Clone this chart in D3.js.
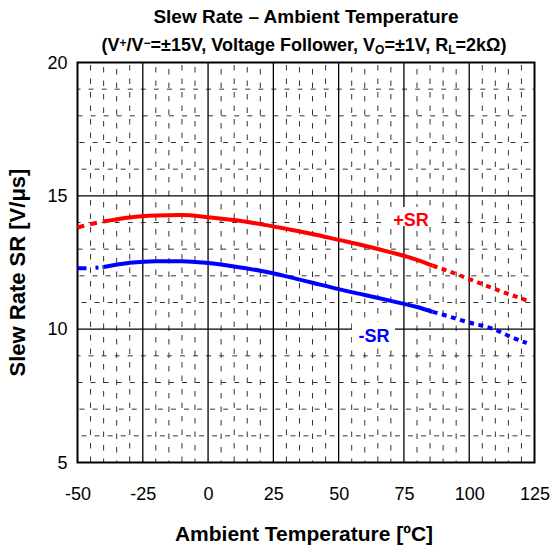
<!DOCTYPE html>
<html>
<head>
<meta charset="utf-8">
<script src="https://cdn.jsdelivr.net/npm/d3@7"></script>
<style>
  body { margin: 0; background: #fff; }
  svg text { font-family: "Liberation Sans", Arial, sans-serif; }
</style>
</head>
<body>
<script>
'use strict'

// tick labels
var xTicks = [-50, -25, 0, 25, 50, 75, 100, 125]
var yTicks = [5, 10, 15, 20]

var posLeftT = [-50, -45, -40]
var posLeftV = [13.81, 13.94, 14.04]
var posT = [-40, -30, -20, -10, 0, 10, 20, 30, 40, 50, 60, 70, 80, 86]
var posV = [14.04, 14.19, 14.26, 14.28, 14.2, 14.09, 13.94, 13.76, 13.57, 13.35, 13.13, 12.88, 12.6, 12.38]
var posRightT = [86, 90, 100, 110, 122]
var posRightV = [12.38, 12.25, 11.88, 11.5, 11.08]

// -SR
var negLeftT = [-50, -45, -40]
var negLeftV = [12.28, 12.29, 12.33]
var negT = [-40, -30, -20, -10, 0, 10, 20, 30, 40, 50, 60, 70, 80, 86]
var negV = [12.33, 12.49, 12.55, 12.55, 12.48, 12.35, 12.19, 11.98, 11.74, 11.5, 11.28, 11.06, 10.83, 10.65]
var negRightT = [86, 90, 100, 110, 115, 122]
var negRightV = [10.65, 10.54, 10.25, 9.98, 9.75, 9.48]

var width = 554
var height = 550
var margin = { top: 62.5, right: 19.5, bottom: 87.5, left: 77.5 }
var w = width - margin.left - margin.right
var h = height - margin.top - margin.bottom

var svg = d3.select('body').append('svg')
  .attr('width', width)
  .attr('height', height)

var x = d3.scaleLinear().domain([-50, 125]).range([0, w])
var y = d3.scaleLinear().domain([5, 20]).range([h, 0])

function zip (ts, vs) {
  return ts.map(function (t, i) { return { t: t, v: vs[i] } })
}

// titles
svg.append('text')
  .attr('x', margin.left + w / 2)
  .attr('y', 23)
  .attr('text-anchor', 'middle')
  .style('font-size', '19px')
  .style('font-weight', 'bold')
  .text('Slew Rate \u2013 Ambient Temperature')

var sub = svg.append('text')
  .attr('x', margin.left + w / 2 - 2)
  .attr('y', 51)
  .attr('text-anchor', 'middle')
  .style('font-size', '18px')
  .style('font-weight', 'bold')
sub.append('tspan').text('(V')
sub.append('tspan').attr('baseline-shift', '35%').style('font-size', '12px').text('+')
sub.append('tspan').text('/V')
sub.append('tspan').attr('baseline-shift', '35%').style('font-size', '12px').text('\u2212')
sub.append('tspan').text('=\u00b115V, Voltage Follower, V')
sub.append('tspan').attr('baseline-shift', '-25%').style('font-size', '12px').text('O')
sub.append('tspan').text('=\u00b11V, R')
sub.append('tspan').attr('baseline-shift', '-25%').style('font-size', '12px').text('L')
sub.append('tspan').text('=2k\u03a9)')

var g = svg.append('g')
  .attr('transform', 'translate(' + margin.left + ',' + margin.top + ')')

// minor grid
var xMinor = d3.range(-45, 125, 5).filter(function (d) { return d % 25 !== 0 })
var yMinor = d3.range(6, 20, 1).filter(function (d) { return d % 5 !== 0 })

g.append('g').selectAll('line')
  .data(xMinor)
  .enter().append('line')
  .attr('x1', function (d) { return x(d) })
  .attr('x2', function (d) { return x(d) })
  .attr('y1', 0)
  .attr('y2', h)
  .attr('stroke', '#333')
  .attr('stroke-width', 1)
  .attr('stroke-dasharray', '5.5,8')
  .attr('stroke-dashoffset', function (d, i) { return -2.5 - (i % 3) * 2 })

g.append('g').selectAll('line')
  .data(yMinor)
  .enter().append('line')
  .attr('x1', 0)
  .attr('x2', w)
  .attr('y1', function (d) { return y(d) })
  .attr('y2', function (d) { return y(d) })
  .attr('stroke', '#333')
  .attr('stroke-width', 1)
  .attr('stroke-dasharray', '5,8.06')
  .attr('stroke-dashoffset', function (d, i) { return -4 + (i % 4) * 2 })

// major grid
g.append('g').selectAll('line')
  .data(xTicks.slice(1, -1))
  .enter().append('line')
  .attr('x1', function (d) { return x(d) })
  .attr('x2', function (d) { return x(d) })
  .attr('y1', 0)
  .attr('y2', h)
  .attr('stroke', '#000')
  .attr('stroke-width', 1.3)

g.append('g').selectAll('line')
  .data(yTicks.slice(1, -1))
  .enter().append('line')
  .attr('x1', 0)
  .attr('x2', w)
  .attr('y1', function (d) { return y(d) })
  .attr('y2', function (d) { return y(d) })
  .attr('stroke', '#000')
  .attr('stroke-width', 1.3)

// label backgrounds knock out the grid
g.append('rect')
  .attr('x', x(67.8)).attr('y', y(14.58))
  .attr('width', 48).attr('height', 19)
  .attr('fill', '#fff')
g.append('rect')
  .attr('x', x(55.1)).attr('y', y(10.27))
  .attr('width', 43).attr('height', 23)
  .attr('fill', '#fff')

// frame
g.append('rect')
  .attr('width', w)
  .attr('height', h)
  .attr('fill', 'none')
  .attr('stroke', '#000')
  .attr('stroke-width', 2)

// axes
var xAxis = g.append('g')
  .attr('transform', 'translate(0,' + h + ')')
  .call(d3.axisBottom(x).tickValues(xTicks).tickSize(0).tickPadding(25)
    .tickFormat(function (d) { return String(d) }))
xAxis.select('.domain').remove()
xAxis.selectAll('text')
  .style('font-size', '18px')
  .style('font-family', '"Liberation Sans", Arial, sans-serif')
  .attr('fill', '#000')

var yAxis = g.append('g')
  .call(d3.axisLeft(y).tickValues(yTicks).tickSize(0).tickPadding(10)
    .tickFormat(function (d) { return String(d) }))
yAxis.select('.domain').remove()
yAxis.selectAll('text')
  .style('font-size', '18px')
  .style('font-family', '"Liberation Sans", Arial, sans-serif')
  .attr('fill', '#000')

svg.append('text')
  .attr('x', margin.left + w / 2 - 2)
  .attr('y', 541)
  .attr('text-anchor', 'middle')
  .style('font-size', '21px')
  .style('font-weight', 'bold')
  .text('Ambient Temperature [\u00baC]')

svg.append('text')
  .attr('transform', 'translate(25,' + (margin.top + h / 2 + 10) + ') rotate(-90)')
  .attr('text-anchor', 'middle')
  .style('font-size', '22px')
  .style('font-weight', 'bold')
  .text('Slew Rate SR [V/\u03bcs]')

// curves
var line = d3.line()
  .x(function (d) { return x(d.t) })
  .y(function (d) { return y(d.v) })
  .curve(d3.curveMonotoneX)

var series = [
  { color: '#ff0000', left: zip(posLeftT, posLeftV), mid: zip(posT, posV), right: zip(posRightT, posRightV), leftDash: '7,6' },
  { color: '#0000ff', left: zip(negLeftT, negLeftV), mid: zip(negT, negV), right: zip(negRightT, negRightV), leftDash: '9,9,3,4' }
]

series.forEach(function (s) {
  g.append('path')
    .datum(s.left)
    .attr('d', line)
    .attr('fill', 'none')
    .attr('stroke', s.color)
    .attr('stroke-width', 4)
    .attr('stroke-dasharray', s.leftDash)
  g.append('path')
    .datum(s.mid)
    .attr('d', line)
    .attr('fill', 'none')
    .attr('stroke', s.color)
    .attr('stroke-width', 4)
  g.append('path')
    .datum(s.right)
    .attr('d', line)
    .attr('fill', 'none')
    .attr('stroke', s.color)
    .attr('stroke-width', 4)
    .attr('stroke-dasharray', '5,4.5')
})

// series labels
g.append('text')
  .attr('x', x(77.7))
  .attr('y', y(13.87))
  .attr('text-anchor', 'middle')
  .attr('fill', '#ff0000')
  .style('font-size', '18px')
  .style('font-weight', 'bold')
  .text('+SR')

g.append('text')
  .attr('x', x(63.5))
  .attr('y', y(9.52))
  .attr('text-anchor', 'middle')
  .attr('fill', '#0000ff')
  .style('font-size', '18px')
  .style('font-weight', 'bold')
  .text('-SR')
</script>
</body>
</html>
